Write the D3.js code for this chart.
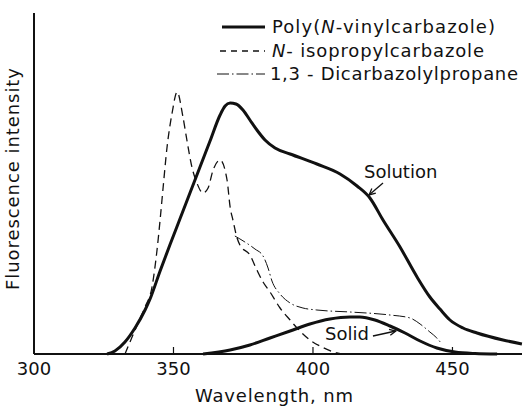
<!DOCTYPE html>
<html><head><meta charset="utf-8">
<script src="https://cdn.jsdelivr.net/npm/d3@7"></script>
<style>
html,body{margin:0;padding:0;background:#fff;}
svg{display:block;}
text{font-family:"DejaVu Sans",sans-serif;fill:#111;}
</style></head>
<body>
<svg id="c" width="527" height="407"></svg>
<script>
// ---- data (wavelength nm, relative fluorescence intensity) ----
const xTicks = [300, 350, 400, 450];
const solutionNm  = [326.2,329.0,332.6,336.2,339.8,341.6,345.2,348.7,352.3,355.9,359.5,363.1,366.7,368.5,370.3,372.4,374.9,377.4,379.9,382.8,386.4,391.8,401.4,409.7,415.8,420.4,425.1,431.2,437.3,441.9,445.5,449.1,453.8,458.8,468.1,474.9];
const solutionVal = [0,1.2,4.8,10.4,17.6,22.0,33.2,43.6,54.0,64.4,74.8,85.2,95.6,99.2,100.4,100.0,97.6,93.6,89.6,85.6,82.4,80.0,76.0,72.0,67.2,62.4,53.6,42.8,30.8,22.8,18.0,13.6,10.4,8.4,5.6,4.0];
const solidNm  = [360.6,370.3,377.4,384.6,391.8,398.9,406.1,413.3,416.8,422.2,427.6,433.0,438.4,444.4,450.9,458.1,466.0];
const solidVal = [0,1.6,3.6,6.4,9.2,12.0,14.0,14.8,14.8,13.6,11.2,8.4,5.2,2.4,0.8,0.2,0];
const isoNm  = [332.6,337.3,339.8,342.3,344.1,345.2,346.2,347.7,349.5,351.3,353.4,354.8,356.6,358.4,360.6,362.4,364.2,366.7,369.2,370.3,371.3,372.8,373.8,377.4,379.9,382.1,384.6,388.2,391.8,395.3,398.9,403.2,408.6,410.4];
const isoVal = [0,12.4,18.8,26.8,41.6,53.6,65.6,82.8,96.4,104.8,94.8,85.6,74.8,68.4,64.4,66.4,73.6,77.6,69.6,58.8,53.6,46.4,43.6,39.6,33.6,28.8,24.8,18.4,13.6,9.2,5.6,2.8,0.4,0];
const dicNm  = [372.0,375.6,379.2,382.1,383.9,385.3,388.2,391.8,396.4,401.4,413.3,427.6,434.8,438.4,441.9,444.4,445.9];
const dicVal = [47.2,44.8,42.0,39.2,34.4,29.2,24.0,20.4,18.4,17.6,16.8,15.6,14.4,12.0,8.8,6.4,4.4];
const legendLabels = ["Poly(N-vinylcarbazole)", "N- isopropylcarbazole", "1,3 - Dicarbazolylpropane"];

const zip = (a,b) => a.map((v,i)=>[v,b[i]]);

const svg = d3.select("#c");
const x = d3.scaleLinear().domain([300, 476]).range([34, 525]);
const y = d3.scaleLinear().domain([0, 100]).range([354, 104]);

// axes
svg.append("line").attr("x1",x(300)).attr("x2",522).attr("y1",y(0)).attr("y2",y(0))
  .attr("stroke","#111").attr("stroke-width",2);
svg.append("line").attr("x1",x(300)).attr("x2",x(300)).attr("y1",y(0)).attr("y2",13)
  .attr("stroke","#111").attr("stroke-width",2);
xTicks.forEach(t=>{
  if(t>300) svg.append("line").attr("x1",x(t)).attr("x2",x(t)).attr("y1",y(0)).attr("y2",y(0)-7)
    .attr("stroke","#111").attr("stroke-width",1.2);
  svg.append("text").attr("x",x(t)).attr("y",375).attr("text-anchor","middle")
    .attr("font-size",18).text(t);
});
svg.append("text").attr("x",195).attr("y",402).attr("font-size",18)
  .attr("textLength",158).attr("lengthAdjust","spacing").text("Wavelength, nm");
svg.append("text").attr("transform","translate(19,290) rotate(-90)").attr("font-size",18)
  .attr("textLength",222).attr("lengthAdjust","spacing").text("Fluorescence intensity");

const line = d3.line().x(d=>x(d[0])).y(d=>y(d[1])).curve(d3.curveMonotoneX);

svg.append("path").attr("d",line(zip(isoNm,isoVal))).attr("fill","none")
  .attr("stroke","#111").attr("stroke-width",1.3).attr("stroke-dasharray","8,5");
svg.append("path").attr("d",line(zip(dicNm,dicVal))).attr("fill","none")
  .attr("stroke","#111").attr("stroke-width",1).attr("stroke-dasharray","12,3,1.5,3");
svg.append("path").attr("d",line(zip(solutionNm,solutionVal))).attr("fill","none")
  .attr("stroke","#111").attr("stroke-width",3).attr("stroke-linejoin","round");
svg.append("path").attr("d",line(zip(solidNm,solidVal))).attr("fill","none")
  .attr("stroke","#111").attr("stroke-width",3).attr("stroke-linejoin","round");

// annotations
function arrow(x1,y1,x2,y2){
  const ang = Math.atan2(y2-y1,x2-x1), L=7, w=0.45;
  svg.append("line").attr("x1",x1).attr("y1",y1).attr("x2",x2).attr("y2",y2).attr("stroke","#111").attr("stroke-width",1.3);
  svg.append("path").attr("d",`M${x2-L*Math.cos(ang-w)},${y2-L*Math.sin(ang-w)}L${x2},${y2}L${x2-L*Math.cos(ang+w)},${y2-L*Math.sin(ang+w)}`)
    .attr("fill","none").attr("stroke","#111").attr("stroke-width",1.3);
}
svg.append("text").attr("x",x(418.3)).attr("y",y(70.4)).attr("font-size",18).text("Solution");
arrow(x(425.1),y(68.4),x(420.1),y(63.6));
svg.append("text").attr("x",x(404.3)).attr("y",y(5.6)).attr("font-size",18).text("Solid");
arrow(x(421.5),y(7.2),x(429.7),y(9.2));

// legend
const lg = [{y:27, dash:null, w:3, x1:222},{y:51, dash:"6,5", w:1.3, x1:220},{y:74, dash:"12,3,1.5,3", w:1, x1:217}];
const lw = [223, 212, 248];
lg.forEach((r,i)=>{
  svg.append("line").attr("x1",r.x1).attr("x2",265).attr("y1",r.y).attr("y2",r.y)
    .attr("stroke","#111").attr("stroke-width",r.w).attr("stroke-dasharray",r.dash);
  const t = svg.append("text").attr("x",i===2?270:272).attr("y",r.y+6).attr("font-size",18)
    .attr("textLength",lw[i]).attr("lengthAdjust","spacing");
  const lab = legendLabels[i];
  if(lab.includes("N-")){
    const k = lab.indexOf("N-");
    if(k>0) t.append("tspan").text(lab.slice(0,k));
    t.append("tspan").attr("font-style","italic").text("N");
    t.append("tspan").text(lab.slice(k+1));
  } else t.text(lab);
});
</script>
</body></html>
